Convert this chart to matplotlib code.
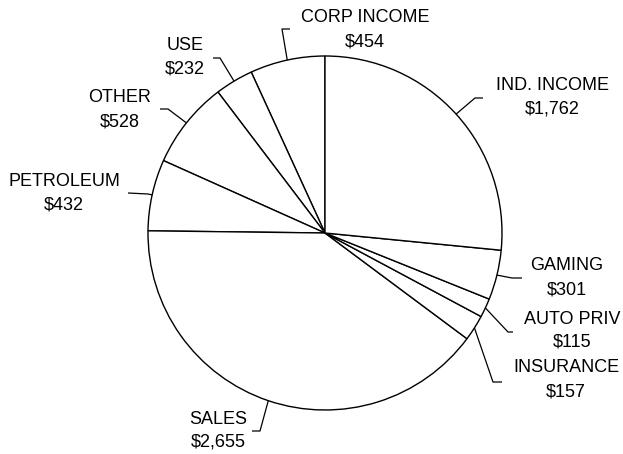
import numpy as np
import matplotlib
matplotlib.use("Agg")
import matplotlib.pyplot as plt

# Data (counterclockwise from 12 o'clock)
categories = ["CORP INCOME", "USE", "OTHER", "PETROLEUM", "SALES",
              "INSURANCE", "AUTO PRIV", "GAMING", "IND. INCOME"]
values = [454, 232, 528, 432, 2655, 157, 115, 301, 1762]

W, H = 623, 454
plt.rcParams['font.family'] = ['Liberation Sans', 'DejaVu Sans']

fig = plt.figure(figsize=(W / 100, H / 100), dpi=100)
ax = fig.add_axes([0, 0, 1, 1])
ax.set_xlim(0, W)
ax.set_ylim(0, H)
ax.set_aspect('equal')
ax.axis('off')

def py(y):
    return H - y

cx, cy, R = 325, py(233), 177
wedges, _ = ax.pie(values, startangle=90, counterclock=True, center=(cx, cy),
                   radius=R, colors=['white'] * len(values),
                   wedgeprops=dict(edgecolor='black', linewidth=1.0),
                   frame=True)
ax.set_xlim(0, W)
ax.set_ylim(0, H)
ax.axis('off')

# layout: label text centre x, line-1 y, line-2 y, leader elbow, leader end (pixels)
layout = {
    "CORP INCOME": (365, 17, 42, (282, 29), (290, 29)),
    "USE": (185, 45, 69, (220, 58), (213, 58)),
    "OTHER": (120, 98, 122, (168, 109), (160, 109)),
    "PETROLEUM": (64, 182, 205, (148, 194), (128, 193)),
    "SALES": (218, 420, 442, (260, 431), (252, 431)),
    "INSURANCE": (566, 368, 392, (493, 382), (502, 382)),
    "AUTO PRIV": (572, 319, 342, (508, 332), (513, 332)),
    "GAMING": (567, 266, 290, (512, 278), (522, 278)),
    "IND. INCOME": (552, 85, 109, (475, 98), (483, 98)),
}

for w, name, v in zip(wedges, categories, values):
    mid = np.deg2rad((w.theta1 + w.theta2) / 2)
    sx, sy = cx + R * np.cos(mid), cy + R * np.sin(mid)
    tx, y1, y2, (ex, ey), (fx, fy) = layout[name]
    ax.plot([sx, ex, fx], [sy, py(ey), py(fy)], color='black', lw=0.9,
            solid_capstyle='butt')
    ax.text(tx, py(y1), name, ha='center', va='center', fontsize=13)
    ax.text(tx, py(y2), f"${v:,}", ha='center', va='center', fontsize=13)

fig.savefig("out.png", dpi=100, facecolor='white')
